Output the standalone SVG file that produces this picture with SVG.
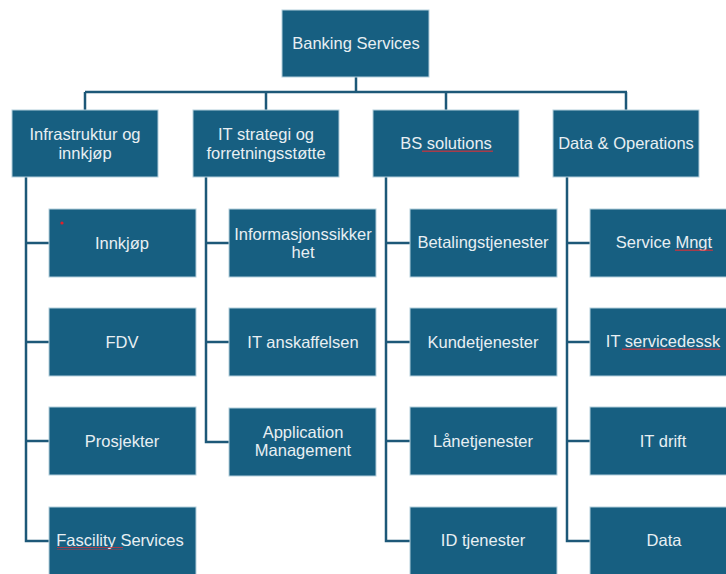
<svg xmlns="http://www.w3.org/2000/svg" width="726" height="574" viewBox="0 0 726 574">
  <style>
    .box { fill: #175f81; stroke: #b4cfdc; stroke-width: 1; }
    .lbl { fill: #e8eff3; font-family: "Liberation Sans", Arial, sans-serif; font-size: 16.5px; text-anchor: middle; }
    .conn { fill: none; stroke: #1d5878; stroke-width: 2.5; }
    .sq { fill: none; stroke: #d0313a; stroke-width: 1; }
  </style>
  <defs>
    <pattern id="squiggle" width="4" height="3" patternUnits="userSpaceOnUse">
      <path d="M0 2 L1 0.5 L2 2 L3 0.5 L4 2" fill="none" stroke="#d0313a" stroke-width="0.9"/>
    </pattern>
  </defs>
  <rect width="726" height="574" fill="#ffffff"/>

  <!-- connectors -->
  <g id="connectors" class="conn">
    <path d="M356 77 V92 M85 92 H627 M85 92 V110 M266 92 V110 M446 92 V110 M626 92 V110"/>
    <path d="M26 177 V541 H49 M26 243 H49 M26 342 H49 M26 441 H49"/>
    <path d="M206 177 V442 H229 M206 243 H229 M206 342 H229"/>
    <path d="M386 177 V541 H410 M386 243 H410 M386 342 H410 M386 441 H410"/>
    <path d="M567 177 V541 H590 M567 243 H590 M567 342 H590 M567 441 H590"/>
  </g>

  <!-- root -->
  <g id="banking-services">
    <rect class="box" x="282" y="10" width="147" height="67"/>
    <text class="lbl" x="356" y="49">Banking Services</text>
  </g>

  <!-- departments -->
  <g id="infrastruktur">
    <rect class="box" x="12" y="110" width="146" height="67"/>
    <text class="lbl" x="85" y="140">Infrastruktur og</text>
    <text class="lbl" x="85" y="159">innkjøp</text>
  </g>
  <g id="it-strategi">
    <rect class="box" x="193" y="110" width="146" height="67"/>
    <text class="lbl" x="266" y="140">IT strategi og</text>
    <text class="lbl" x="266" y="159">forretningsstøtte</text>
  </g>
  <g id="bs-solutions">
    <rect class="box" x="373" y="110" width="146" height="67"/>
    <text class="lbl" x="446" y="149">BS solutions</text>
    <rect x="422" y="150" width="71" height="3" fill="url(#squiggle)"/>
  </g>
  <g id="data-operations">
    <rect class="box" x="553" y="110" width="146" height="67"/>
    <text class="lbl" x="626" y="149">Data &amp; Operations</text>
  </g>

  <!-- Infrastruktur og innkjøp -->
  <g id="innkjop">
    <rect class="box" x="49" y="209" width="147" height="68"/>
    <circle cx="62" cy="223" r="1.6" fill="#e0202a"/>
    <text class="lbl" x="122" y="249">Innkjøp</text>
  </g>
  <g id="fdv">
    <rect class="box" x="49" y="308" width="147" height="68"/>
    <text class="lbl" x="122" y="348">FDV</text>
  </g>
  <g id="prosjekter">
    <rect class="box" x="49" y="407" width="147" height="68"/>
    <text class="lbl" x="122" y="447">Prosjekter</text>
  </g>
  <g id="fascility-services">
    <rect class="box" x="49" y="507" width="147" height="68"/>
    <text class="lbl" x="120" y="546">Fascility Services</text>
    <rect x="57" y="547" width="66" height="3" fill="url(#squiggle)"/>
  </g>

  <!-- IT strategi og forretningsstøtte -->
  <g id="informasjonssikkerhet">
    <rect class="box" x="229" y="209" width="147" height="68"/>
    <text class="lbl" x="303" y="240">Informasjonssikker</text>
    <text class="lbl" x="303" y="258">het</text>
  </g>
  <g id="it-anskaffelsen">
    <rect class="box" x="229" y="308" width="147" height="68"/>
    <text class="lbl" x="303" y="348">IT anskaffelsen</text>
  </g>
  <g id="application-management">
    <rect class="box" x="229" y="408" width="147" height="68"/>
    <text class="lbl" x="303" y="438">Application</text>
    <text class="lbl" x="303" y="456">Management</text>
  </g>

  <!-- BS solutions -->
  <g id="betalingstjenester">
    <rect class="box" x="410" y="209" width="147" height="68"/>
    <text class="lbl" x="483" y="248">Betalingstjenester</text>
  </g>
  <g id="kundetjenester">
    <rect class="box" x="410" y="308" width="147" height="68"/>
    <text class="lbl" x="483" y="348">Kundetjenester</text>
  </g>
  <g id="lanetjenester">
    <rect class="box" x="410" y="407" width="147" height="68"/>
    <text class="lbl" x="483" y="447">Lånetjenester</text>
  </g>
  <g id="id-tjenester">
    <rect class="box" x="410" y="507" width="147" height="68"/>
    <text class="lbl" x="483" y="546">ID tjenester</text>
  </g>

  <!-- Data & Operations -->
  <g id="service-mngt">
    <rect class="box" x="590" y="209" width="147" height="68"/>
    <text class="lbl" x="664" y="248">Service Mngt</text>
    <rect x="675" y="249" width="38" height="3" fill="url(#squiggle)"/>
  </g>
  <g id="it-servicedessk">
    <rect class="box" x="590" y="308" width="147" height="68"/>
    <text class="lbl" x="663" y="347">IT servicedessk</text>
    <rect x="622" y="348" width="98" height="3" fill="url(#squiggle)"/>
  </g>
  <g id="it-drift">
    <rect class="box" x="590" y="407" width="147" height="68"/>
    <text class="lbl" x="663" y="447">IT drift</text>
  </g>
  <g id="data">
    <rect class="box" x="590" y="507" width="147" height="68"/>
    <text class="lbl" x="664" y="546">Data</text>
  </g>
</svg>
